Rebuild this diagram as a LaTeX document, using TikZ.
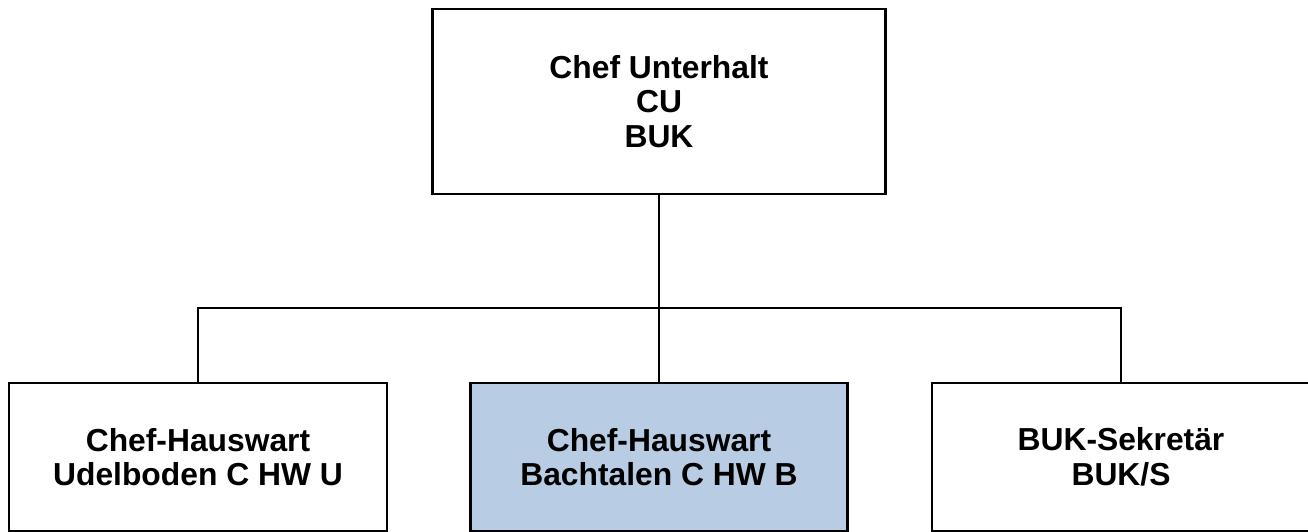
\documentclass[tikz,border=0pt]{standalone}
\usepackage{fontspec}
\setmainfont{Liberation Sans}
\definecolor{unitblue}{HTML}{B8CCE4}
\begin{document}
\begin{tikzpicture}[x=1pt,y=-1pt,
  unit/.style={draw=black, line width=2.6pt, fill=white, align=center,
    inner sep=0pt, font=\fontsize{31.8}{34.5}\selectfont\bfseries},
  link/.style={draw=black, line width=2.6pt}]
  \useasboundingbox (0,0) rectangle (1308,531);
  % head of maintenance
  \node[unit, minimum width=453pt, minimum height=185pt] (cu) at (659,101.5)
    {Chef Unterhalt\\CU\\BUK};
  % subordinate units
  \node[unit, minimum width=378pt, minimum height=148pt] (hwu) at (198,457)
    {Chef-Hauswart\\Udelboden C HW U};
  \node[unit, fill=unitblue, minimum width=377pt, minimum height=148pt] (hwb) at (659,457)
    {Chef-Hauswart\\Bachtalen C HW B};
  \node[unit, minimum width=378pt, minimum height=148pt] (sek) at (1121,457)
    {BUK-Sekretär\\BUK/S};
  % reporting lines
  \coordinate (bus) at (659,308);
  \draw[link] (cu.south) -- (hwb.north);
  \draw[link] (hwu.north) |- (bus) -| (sek.north);
\end{tikzpicture}
\end{document}
